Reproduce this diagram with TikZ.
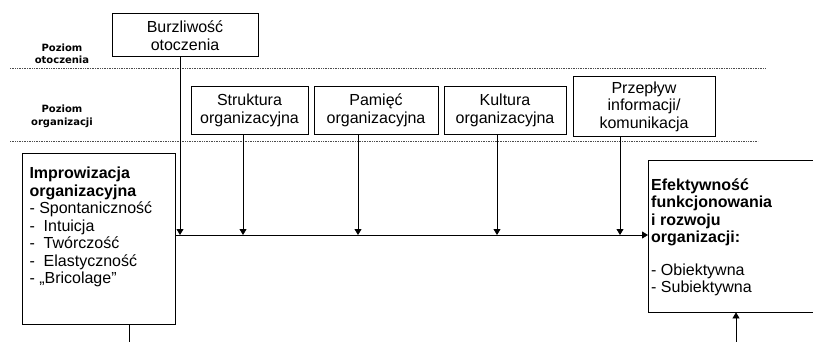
\documentclass[tikz,border=0pt]{standalone}
\usepackage{fontspec}
\setmainfont{Liberation Sans}
\newfontfamily\heavyfont{DejaVu Sans}
\usetikzlibrary{positioning,arrows.meta}

\begin{document}
\begin{tikzpicture}[x=1pt,y=-1pt,
    every node/.style={font=\fontsize{16}{17.5}\selectfont},
    box/.style={draw,line width=1pt,align=center,inner sep=0pt},
    bigbox/.style={anchor=north west,inner ysep=0pt},
    levellabel/.style={align=center,font=\heavyfont\bfseries\fontsize{10}{12.5}\selectfont},
    levelline/.style={densely dotted,line width=0.7pt,black!70},
    arrowline/.style={line width=0.8pt,-{Triangle[width=7pt,length=6pt]}},
    plainline/.style={line width=0.8pt}]
    \useasboundingbox (0,0) rectangle (813,342);

    % Levels
    \draw[levelline] (10,68) -- (766,68);
    \draw[levelline] (10,141) -- (758,141);
    \node[levellabel] (lotocz) at (62,54) {Poziom\\otoczenia};
    \node[levellabel] (lorg) at (62,116.5) {Poziom\\organizacji};

    % Environment level
    \node[box,minimum width=146pt,minimum height=43pt] (burz) at (185,35.5) {Burzliwość\\otoczenia};

    % Organisation level
    \node[box,minimum width=117pt,minimum height=47pt] (strukt) at (249.5,110.5) {Struktura\\organizacyjna};
    \node[box,minimum width=124pt,minimum height=48pt,right=5pt of strukt] (pamiec) {Pamięć\\organizacyjna};
    \node[box,minimum width=122pt,minimum height=48pt,right=5pt of pamiec] (kultura) {Kultura\\organizacyjna};
    \node[box,minimum width=142pt,minimum height=59pt] (przeplyw) at (644,106.5) {Przepływ\\informacji/\\komunikacja};

    % Left and right boxes
    \node[bigbox,draw,line width=1pt,inner xsep=7pt] (impro) at (22,153) {\parbox[t][171pt][t]{139pt}{%
        \rule{0pt}{25pt}\textbf{Improwizacja}\\
        \textbf{organizacyjna}\\
        - Spontaniczność\\
        -\ \ Intuicja\\
        -\ \ Twórczość\\
        -\ \ Elastyczność\\
        - „Bricolage"}};
    \node[bigbox,inner xsep=3pt] (efekt) at (648,160) {\parbox[t][152pt][t]{150pt}{%
        \rule{0pt}{30pt}\textbf{Efektywność}\\
        \textbf{funkcjonowania}\\
        \textbf{i rozwoju}\\
        \textbf{organizacji:}\\[15pt]
        - Obiektywna\\
        - Subiektywna}};
    % right box runs off the page
    \begin{scope}
        \clip (0,0) rectangle (813,342);
        \draw[line width=1pt] ([xshift=40pt]efekt.north east) -- (efekt.north west)
            -- (efekt.south west) -- ([xshift=40pt]efekt.south east);
    \end{scope}

    % Arrows down to the main line
    \foreach \src/\xx [count=\k] in {burz/180,strukt/243,pamiec/358,kultura/497,przeplyw/620} {
        \coordinate (d\k) at (\xx,235);
        \draw[arrowline] (\src.south -| d\k) -- (d\k);
    }
    \draw[arrowline] (impro.east |- d1) -- (efekt.west |- d1);

    % Stubs at the bottom
    \coordinate (b1) at (129,345);
    \coordinate (b2) at (736,345);
    \draw[plainline] (impro.south -| b1) -- (b1);
    \draw[arrowline] (b2) -- (efekt.south -| b2);
\end{tikzpicture}
\end{document}
